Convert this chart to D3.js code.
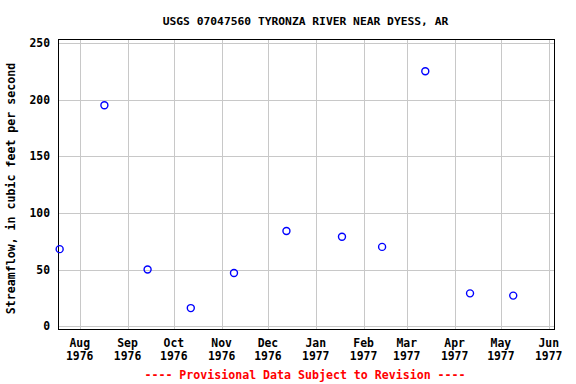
<!DOCTYPE html>
<html>
<head>
<meta charset="utf-8">
<script src="https://cdn.jsdelivr.net/npm/d3@7"></script>
<style>
  body { margin: 0; background: #fff; }
  text { font-family: "DejaVu Sans Mono", "Liberation Mono", monospace; font-weight: bold; }
</style>
</head>
<body>
<script>
(function(){

//chart data
var sampleDates = ["1976-07-19", "1976-08-17", "1976-09-14", "1976-10-12", "1976-11-09", "1976-12-13",
                   "1977-01-18", "1977-02-13", "1977-03-13", "1977-04-11", "1977-05-09"];
var flowValues = [68, 195, 50, 16, 47, 84, 79, 70, 225, 29, 27];
var yTicks = [0, 50, 100, 150, 200, 250];
var monthTicks = ["1976-08-01", "1976-09-01", "1976-10-01", "1976-11-01", "1976-12-01",
                  "1977-01-01", "1977-02-01", "1977-03-01", "1977-04-01", "1977-05-01", "1977-06-01"];
var titleText = "USGS 07047560 TYRONZA RIVER NEAR DYESS, AR";
var yLabelText = "Streamflow, in cubic feet per second";
var footerText = "---- Provisional Data Subject to Revision ----";

var parseDate = d3.timeParse("%Y-%m-%d");
var fmtMonth = d3.timeFormat("%b"),
    fmtYear = d3.timeFormat("%Y");

window.onload = drawChart();

function drawChart(){

    var width = 576,
        height = 384;

    var left = 58.5, right = 554.5, top = 39.5, bottom = 329.5;

    var svg = d3.select("body")
        .append("svg")
        .attr("width", width)
        .attr("height", height);

    var data = sampleDates.map(function(d, i){
        return { date: parseDate(d), value: flowValues[i] };
    });
    var ticks = monthTicks.map(parseDate);

    var x = d3.scaleTime()
        .domain([d3.timeHour.offset(parseDate("1976-07-18"), 6), d3.timeHour.offset(parseDate("1977-06-04"), 18)])
        .range([left, right]);

    var y = d3.scaleLinear()
        .domain([-2.9, 253])
        .range([bottom, top]);

    //gridlines
    svg.append("g")
        .selectAll("line.vgrid")
        .data(ticks)
        .enter()
        .append("line")
        .attr("x1", function(d){ return Math.round(x(d)) + 0.5; })
        .attr("x2", function(d){ return Math.round(x(d)) + 0.5; })
        .attr("y1", top)
        .attr("y2", bottom)
        .attr("stroke", "#c8c8c8")
        .attr("stroke-width", 1);

    svg.append("g")
        .selectAll("line.hgrid")
        .data(yTicks)
        .enter()
        .append("line")
        .attr("x1", left)
        .attr("x2", right)
        .attr("y1", function(d){ return Math.round(y(d)) + 0.5; })
        .attr("y2", function(d){ return Math.round(y(d)) + 0.5; })
        .attr("stroke", "#c8c8c8")
        .attr("stroke-width", 1);

    //plot frame
    svg.append("rect")
        .attr("x", left)
        .attr("y", top)
        .attr("width", right - left)
        .attr("height", bottom - top)
        .attr("fill", "none")
        .attr("stroke", "#000")
        .attr("stroke-width", 1);

    //y axis labels
    svg.append("g")
        .selectAll("text")
        .data(yTicks)
        .enter()
        .append("text")
        .attr("x", 50)
        .attr("y", function(d){ return y(d) + 4; })
        .attr("text-anchor", "end")
        .attr("font-size", "11.4px")
        .text(function(d){ return d; });

    //x axis labels, two lines each
    var xl = svg.append("g")
        .selectAll("text")
        .data(ticks)
        .enter()
        .append("text")
        .attr("text-anchor", "middle")
        .attr("font-size", "11.4px");
    xl.append("tspan")
        .attr("x", function(d){ return x(d); })
        .attr("y", 347)
        .text(function(d){ return fmtMonth(d); });
    xl.append("tspan")
        .attr("x", function(d){ return x(d); })
        .attr("y", 360)
        .text(function(d){ return fmtYear(d); });

    //points
    svg.append("g")
        .selectAll("circle")
        .data(data)
        .enter()
        .append("circle")
        .attr("cx", function(d){ return x(d.date); })
        .attr("cy", function(d){ return y(d.value); })
        .attr("r", 3.5)
        .attr("fill", "none")
        .attr("stroke", "#0000ff")
        .attr("stroke-width", 1.4);

    //title, axis title, footer
    svg.append("text")
        .attr("x", 305.5)
        .attr("y", 24.7)
        .attr("text-anchor", "middle")
        .attr("font-size", "11.3px")
        .text(titleText);

    svg.append("text")
        .attr("transform", "translate(15," + ((top + bottom) / 2 + 4) + ") rotate(-90)")
        .attr("text-anchor", "middle")
        .attr("font-size", "11.6px")
        .text(yLabelText);

    svg.append("text")
        .attr("x", 305)
        .attr("y", 379)
        .attr("text-anchor", "middle")
        .attr("font-size", "11.6px")
        .attr("fill", "#ff0000")
        .text(footerText);
};

})();
</script>
</body>
</html>
